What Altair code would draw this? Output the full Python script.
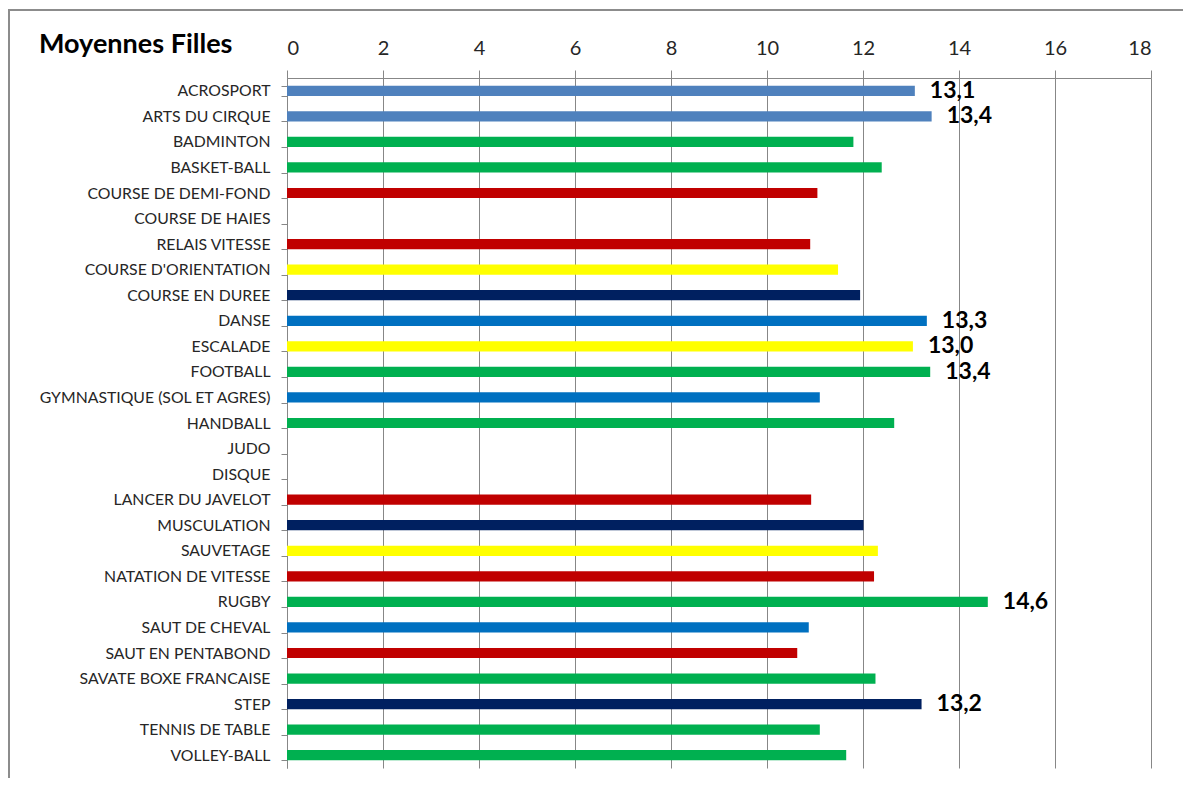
import altair as alt
import pandas as pd

activites = [
    "ACROSPORT", "ARTS DU CIRQUE", "BADMINTON", "BASKET-BALL", "COURSE DE DEMI-FOND",
    "COURSE DE HAIES", "RELAIS VITESSE", "COURSE D'ORIENTATION", "COURSE EN DUREE", "DANSE",
    "ESCALADE", "FOOTBALL", "GYMNASTIQUE (SOL ET AGRES)", "HANDBALL", "JUDO",
    "DISQUE", "LANCER DU JAVELOT", "MUSCULATION", "SAUVETAGE", "NATATION DE VITESSE",
    "RUGBY", "SAUT DE CHEVAL", "SAUT EN PENTABOND", "SAVATE BOXE FRANCAISE", "STEP",
    "TENNIS DE TABLE", "VOLLEY-BALL",
]
moyennes = [
    13.08, 13.43, 11.80, 12.39, 11.05,
    None, 10.90, 11.48, 11.94, 13.33,
    13.04, 13.40, 11.10, 12.65, None,
    None, 10.92, 12.01, 12.31, 12.23,
    14.60, 10.87, 10.63, 12.26, 13.22,
    11.10, 11.65,
]
groupes = [
    "Arts", "Arts", "Collectif", "Collectif", "Athlé",
    "Athlé", "Athlé", "Nature", "Entretien", "Gym",
    "Nature", "Collectif", "Gym", "Collectif", "Combat",
    "Athlé", "Athlé", "Entretien", "Nature", "Athlé",
    "Collectif", "Gym", "Athlé", "Collectif", "Entretien",
    "Collectif", "Collectif",
]
groupe_domaine = ["Arts", "Collectif", "Athlé", "Nature", "Entretien", "Gym", "Combat"]
groupe_couleurs = ["#4F81BD", "#00B050", "#C00000", "#FFFF00", "#002060", "#0070C0", "#7F7F7F"]
x_ticks = [0, 2, 4, 6, 8, 10, 12, 14, 16, 18]
titre = "Moyennes Filles"

df = pd.DataFrame({"activite": activites, "moyenne": moyennes, "groupe": groupes})

FONT = "Lato"
GRID = "#878787"

y_enc = alt.Y(
    "activite:N",
    sort=activites,
    scale=alt.Scale(domain=activites, paddingInner=0.6, paddingOuter=0.3),
    axis=alt.Axis(
        title=None,
        tickBand="extent",
        ticks=True,
        tickSize=6,
        tickColor=GRID,
        domainColor=GRID,
        labelFont=FONT,
        labelFontSize=15.8,
        labelColor="#262626",
        labelPadding=11,
        labelLimit=400,
        grid=False,
    ),
)
x_enc = alt.X(
    "moyenne:Q",
    scale=alt.Scale(domain=[0, 18], nice=False),
    axis=alt.Axis(
        orient="top",
        values=x_ticks,
        title=None,
        grid=True,
        gridColor=GRID,
        domainColor=GRID,
        tickColor=GRID,
        tickSize=8,
        labelFont=FONT,
        labelFontSize=20,
        labelColor="#262626",
        labelPadding=12,
    ),
)

base = alt.Chart(df)

bars = base.transform_filter("isValid(datum.moyenne)").mark_bar().encode(
    x=x_enc,
    y=y_enc,
    color=alt.Color(
        "groupe:N",
        scale=alt.Scale(domain=groupe_domaine, range=groupe_couleurs),
        legend=None,
    ),
)

labels = base.transform_filter(
    "isValid(datum.moyenne) && datum.moyenne >= 13"
).transform_calculate(
    lab="replace(format(datum.moyenne, '.1f'), '.', ',')"
).mark_text(
    align="left", baseline="middle", dx=15, font=FONT, fontSize=23,
    fontWeight="bold", color="#000000",
).encode(
    x="moyenne:Q",
    y=alt.Y("activite:N", sort=activites),
    text="lab:N",
)

title_mark = alt.Chart(alt.Data(values=[{"t": titre}])).mark_text(
    align="left", baseline="alphabetic", font=FONT, fontSize=27,
    fontWeight="bold", color="#000000",
).encode(
    x=alt.value(-248),
    y=alt.value(-25),
    text="t:N",
)

border = alt.Chart(alt.Data(values=[{"b": 1}])).mark_rect(
    fill="transparent", stroke="#8C8C8C", strokeWidth=2,
).encode(
    x=alt.value(-278),
    x2=alt.value(930),
    y=alt.value(-68),
    y2=alt.value(760),
)

chart = alt.layer(border, bars, labels, title_mark).properties(
    width=864,
    height=690,
    autosize=alt.AutoSizeParams(type="none"),
    padding={"left": 279, "top": 70, "right": 32, "bottom": 10},
    background="white",
).configure_view(stroke=None)

chart.save("out.html", embed_options={"renderer": "svg", "actions": False})
